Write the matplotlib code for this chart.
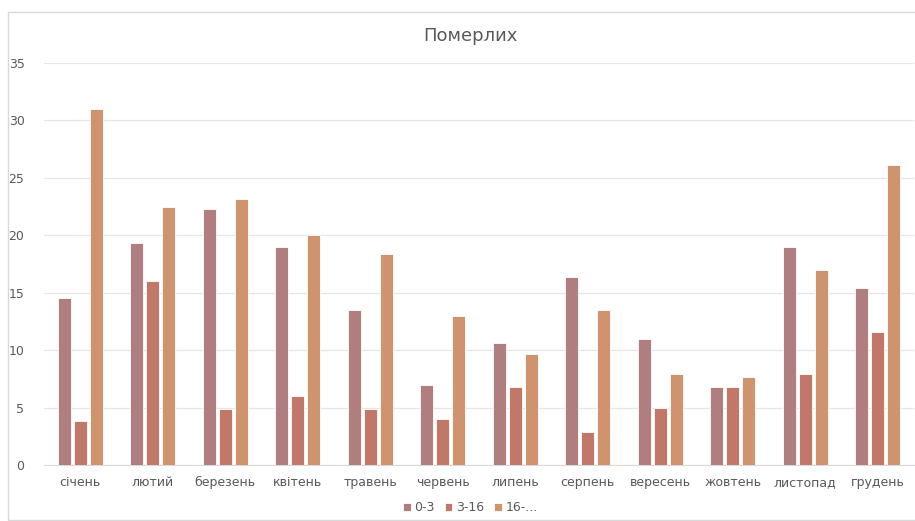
import numpy as np
import matplotlib.pyplot as plt
import matplotlib.patches as patches

# Data
months = ["січень", "лютий", "березень", "квітень", "травень", "червень",
          "липень", "серпень", "вересень", "жовтень", "листопад", "грудень"]
series_names = ["0-3", "3-16", "16-..."]
age_0_3 = [14.5, 19.3, 22.3, 19.0, 13.5, 7.0, 10.6, 16.4, 11.0, 6.8, 19.0, 15.4]
age_3_16 = [3.8, 16.0, 4.9, 6.0, 4.9, 4.0, 6.8, 2.9, 5.0, 6.8, 7.9, 11.6]
age_16_plus = [31.0, 22.5, 23.2, 20.0, 18.4, 13.0, 9.7, 13.5, 7.9, 7.7, 17.0, 26.1]
colors = ["#B07E7E", "#C17868", "#CF946E"]

fig = plt.figure(figsize=(9.15, 5.21), dpi=100)
ax = fig.add_axes([0.048, 0.1075, 0.951, 0.7715])

# chart border
fig.patches.append(patches.Rectangle((8 / 915, 1 - 520 / 521), 1, 1 - 12 / 521 - (1 - 520 / 521),
                                     transform=fig.transFigure, fill=False,
                                     edgecolor="#D9D9D9", linewidth=1))

x = np.arange(len(months))
width = 0.18
step = 0.22
for i, (vals, name) in enumerate(zip([age_0_3, age_3_16, age_16_plus], series_names)):
    ax.bar(x + (i - 1) * step, vals, width, color=colors[i], label=name,
           edgecolor="white", linewidth=0.6, zorder=3)

ax.set_xlim(-0.5, len(months) - 0.5)
ax.set_ylim(0, 35)
ax.set_yticks(range(0, 36, 5))
ax.grid(axis="y", color="#E6E6E6", linewidth=0.9, zorder=0)
ax.set_xticks(x)
ax.set_xticklabels(months)
ax.tick_params(axis="both", length=0, colors="#595959", labelsize=9)
ax.tick_params(axis="x", pad=8)
ax.tick_params(axis="y", pad=14)
for s in ["top", "right", "left"]:
    ax.spines[s].set_visible(False)
ax.spines["bottom"].set_color("#D9D9D9")

fig.text(0.514, 0.93, "Померлих", ha="center", va="center", fontsize=13, color="#595959")

leg = fig.legend(loc="center", bbox_to_anchor=(0.514, 0.025), ncol=3, frameon=False,
                 fontsize=9, handlelength=0.6, handleheight=0.6, handletextpad=0.3,
                 columnspacing=0.8)
for t in leg.get_texts():
    t.set_color("#595959")

fig.savefig("out.png", dpi=100)
